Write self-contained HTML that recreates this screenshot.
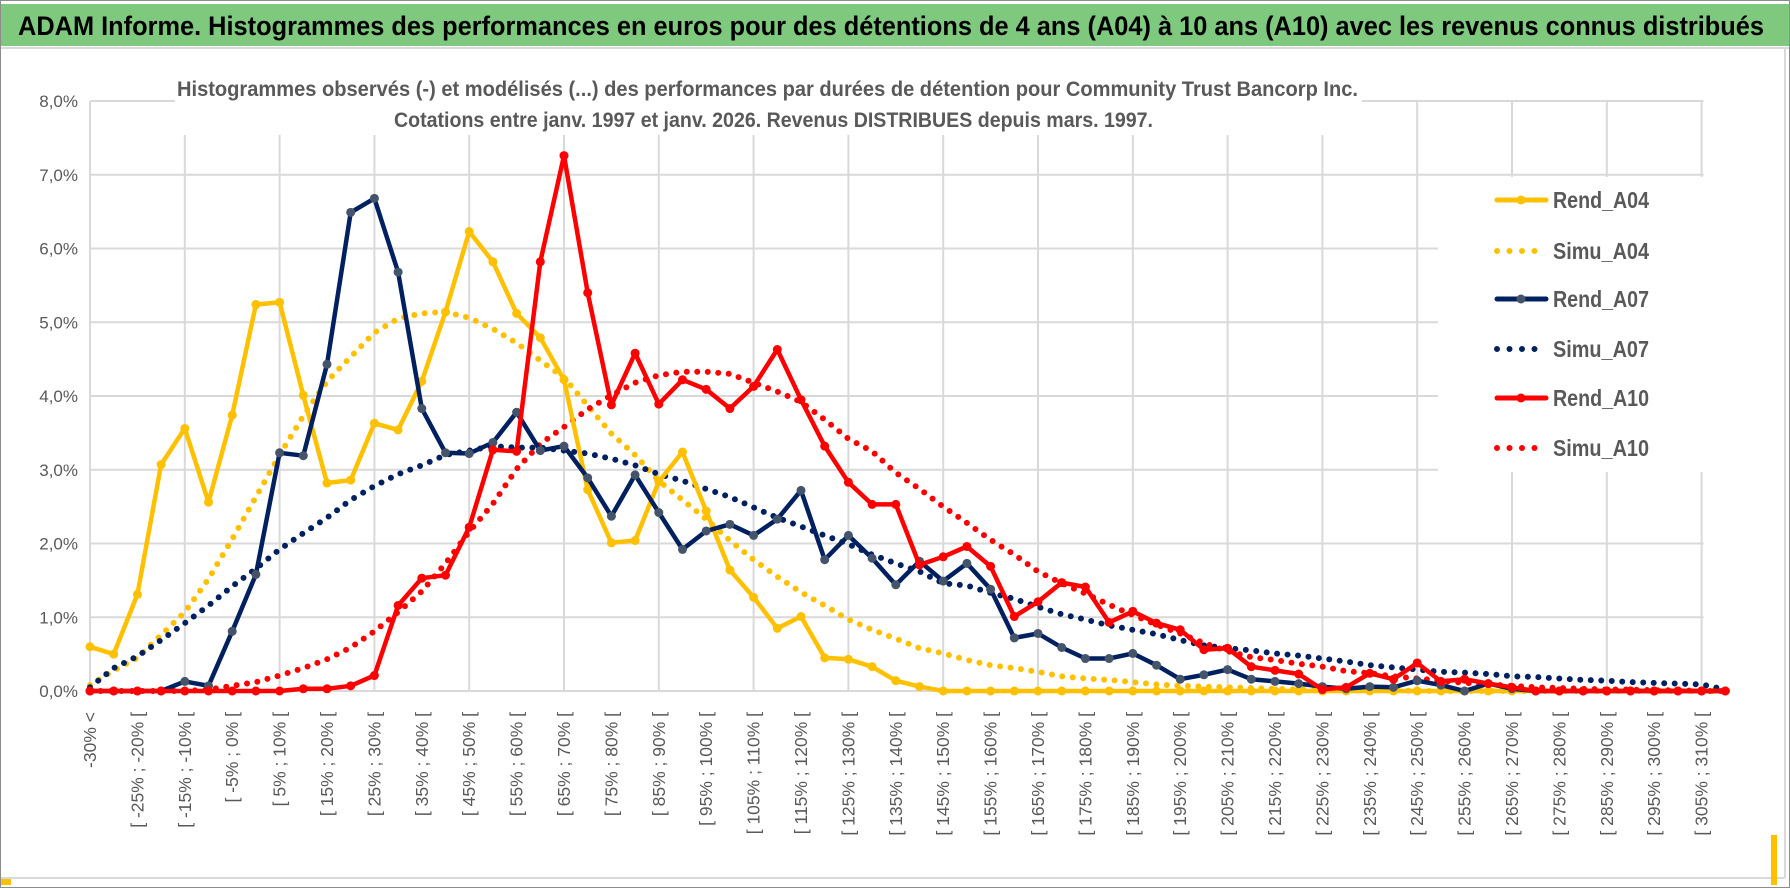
<!DOCTYPE html>
<html><head><meta charset="utf-8">
<style>
html,body{margin:0;padding:0;background:#fff;}
svg{display:block;}
text{font-family:"Liberation Sans Narrow","Liberation Sans",sans-serif;}
</style></head>
<body>
<svg id="chart" width="1790" height="888" viewBox="0 0 1790 888" xmlns="http://www.w3.org/2000/svg">
  <rect x="0" y="0" width="1790" height="888" fill="#fff"/>
  <rect x="0.5" y="0.5" width="1789" height="887" fill="none" stroke="#8c8c8c" stroke-width="1"/>
  <rect x="1" y="4" width="1788" height="42" fill="#7fc97f"/>
  <text x="18" y="35" font-size="27" font-weight="bold" fill="#000" textLength="1746" lengthAdjust="spacingAndGlyphs">ADAM Informe. Histogrammes des performances en euros pour des détentions de 4 ans (A04) à 10 ans (A10) avec les revenus connus distribués</text>
  <line x1="1" y1="48" x2="1789" y2="48" stroke="#d9d9d9" stroke-width="2"/>
  <line x1="1" y1="878" x2="1785" y2="878" stroke="#d9d9d9" stroke-width="2"/>
  <line x1="1785" y1="48" x2="1785" y2="878" stroke="#d9d9d9" stroke-width="2"/>
  <rect x="1" y="879" width="10" height="6" fill="#ffc000"/>
  <rect x="1771" y="835" width="6" height="50" fill="#ffc000"/>
  <g id="grid"></g>
  <rect x="175" y="58" width="1187" height="77" fill="#fff"/>
  <text x="177" y="96" font-size="21" font-weight="bold" fill="#595959" textLength="1181" lengthAdjust="spacingAndGlyphs">Histogrammes observés (-) et modélisés (...) des performances par durées de détention pour Community Trust Bancorp Inc.</text>
  <text x="394" y="127" font-size="21" font-weight="bold" fill="#595959" textLength="759" lengthAdjust="spacingAndGlyphs">Cotations entre janv. 1997 et janv. 2026. Revenus DISTRIBUES depuis mars. 1997.</text>
  <g id="yticks"></g>
  <g id="xticks"></g>
  <rect x="1438" y="177" width="267" height="295" fill="#fff"/>
  <g id="series"></g>
  <g id="legend"></g>
</svg>
<script>
const categories = ["-30% <"];
for (let a = -30; a < 310; a += 5) categories.push("[ " + a + "% ; " + (a + 5) + "% [");
const yTickValues = [0,1,2,3,4,5,6,7,8];
const yTickLabels = ["0,0%","1,0%","2,0%","3,0%","4,0%","5,0%","6,0%","7,0%","8,0%"];
const seriesNames = ["Rend_A04","Simu_A04","Rend_A07","Simu_A07","Rend_A10","Simu_A10"];
const rendA04 = [0.60,0.50,1.31,3.07,3.56,2.56,3.74,5.24,5.27,4.01,2.82,2.86,3.63,3.54,4.20,5.14,6.23,5.82,5.12,4.79,4.22,2.73,2.01,2.04,2.84,3.24,2.44,1.64,1.27,0.85,1.01,0.45,0.43,0.33,0.14,0.06,0,0,0,0,0,0,0,0,0,0,0,0,0,0,0,0,0,0,0,0,0,0,0,0,0,0,0,0,0,0,0,0,0,0];
const simuA04 = [0.08,0.28,0.45,0.76,1.07,1.52,2.06,2.63,3.20,3.73,4.20,4.53,4.86,5.05,5.12,5.14,5.06,4.91,4.72,4.48,4.25,3.87,3.49,3.20,2.85,2.59,2.33,2.04,1.78,1.55,1.34,1.16,0.97,0.83,0.71,0.58,0.51,0.42,0.35,0.31,0.26,0.20,0.17,0.15,0.12,0.09,0.07,0.06,0.05,0.04,0.03,0.02,0.01,0.01,0.01,0.01,0,0,0,0,0,0,0,0,0,0,0,0,0,0];
const rendA07 = [0,0,0,0,0.13,0.07,0.81,1.58,3.23,3.19,4.43,6.49,6.68,5.68,3.83,3.23,3.22,3.37,3.78,3.26,3.32,2.89,2.37,2.93,2.42,1.92,2.17,2.26,2.11,2.33,2.72,1.78,2.11,1.80,1.44,1.76,1.49,1.73,1.38,0.72,0.78,0.59,0.44,0.44,0.51,0.35,0.16,0.22,0.29,0.16,0.13,0.10,0.06,0.03,0.06,0.05,0.14,0.08,0.00,0.10,0.03,0,0,0,0,0,0,0,0,0];
const simuA07 = [0.05,0.31,0.47,0.69,0.92,1.16,1.42,1.66,1.92,2.14,2.35,2.59,2.78,2.94,3.06,3.20,3.26,3.32,3.30,3.30,3.26,3.22,3.15,3.06,2.94,2.85,2.74,2.63,2.49,2.35,2.23,2.11,1.99,1.85,1.73,1.62,1.46,1.43,1.33,1.25,1.14,1.04,0.97,0.89,0.83,0.77,0.69,0.62,0.58,0.55,0.51,0.48,0.44,0.40,0.35,0.32,0.29,0.26,0.25,0.23,0.20,0.19,0.17,0.15,0.14,0.12,0.11,0.10,0.09,0.02];
const rendA10 = [0,0,0,0,0,0,0,0,0,0.03,0.03,0.07,0.21,1.16,1.53,1.57,2.22,3.27,3.25,5.82,7.26,5.40,3.88,4.58,3.89,4.22,4.09,3.83,4.13,4.63,3.95,3.32,2.83,2.53,2.53,1.71,1.82,1.96,1.69,1.01,1.21,1.47,1.41,0.93,1.08,0.92,0.83,0.56,0.58,0.33,0.28,0.23,0.02,0.05,0.24,0.16,0.38,0.13,0.16,0.10,0.05,0,0,0,0,0,0,0,0,0];
const simuA10 = [0,0,0,0,0,0.02,0.07,0.12,0.21,0.31,0.43,0.59,0.81,1.07,1.35,1.73,2.16,2.54,3.01,3.35,3.58,3.82,4.01,4.18,4.28,4.33,4.33,4.30,4.18,4.06,3.92,3.68,3.42,3.25,2.96,2.74,2.50,2.28,2.05,1.85,1.62,1.46,1.32,1.17,1.03,0.90,0.78,0.65,0.54,0.46,0.42,0.37,0.33,0.27,0.24,0.20,0.17,0.14,0.11,0.09,0.07,0.05,0.04,0.03,0.02,0.02,0.01,0.01,0,0];

const NS = "http://www.w3.org/2000/svg";
const X0 = 90, XSTEP = 23.7, Y0 = 691, YPER = 73.75;
function xScale(i){ return X0 + i * XSTEP; }
function yScale(v){ return Y0 - v * YPER; }
function mk(tag, attrs, parent){
  const e = document.createElementNS(NS, tag);
  for (const k in attrs) e.setAttribute(k, attrs[k]);
  parent.appendChild(e); return e;
}
const grid = document.getElementById("grid");
const xLast = xScale(categories.length - 1);
yTickValues.forEach(function(v){
  const l = mk("line", {x1: X0, y1: yScale(v), x2: xLast + 2, y2: yScale(v), stroke: "#d9d9d9", "stroke-width": 2}, grid);
  
  
});
for (let i = 0; i < categories.length; i += 4) {
  const l = mk("line", {x1: xScale(i), y1: yScale(8), x2: xScale(i), y2: Y0, stroke: "#d9d9d9", "stroke-width": 2}, grid);
  
  
}
const yt = document.getElementById("yticks");
yTickValues.forEach(function(v, k){
  const t = mk("text", {x: 78, y: yScale(v) + 6, "text-anchor": "end", "font-size": 17, fill: "#595959"}, yt);
  t.textContent = yTickLabels[k];
  
  
});
const xt = document.getElementById("xticks");
for (let i = 0; i < categories.length; i += 2) {
  const x = xScale(i) + 6, y = 712;
  const t = mk("text", {x: x, y: y, "text-anchor": "end", "font-size": 17.5, fill: "#595959", transform: "rotate(-90 " + x + " " + y + ")", "font-family": "Liberation Sans, sans-serif"}, xt);
  t.textContent = categories[i];
  
  
}
const sg = document.getElementById("series");
function drawSeries(vals, color, dotted, markerFill, name){
  const pts = vals.map(function(v, i){ return xScale(i).toFixed(1) + "," + yScale(v).toFixed(1); }).join(" ");
  const attrs = dotted
    ? {points: pts, fill: "none", stroke: color, "stroke-width": 6, "stroke-dasharray": "0 10.5", "stroke-linecap": "round"}
    : {points: pts, fill: "none", stroke: color, "stroke-width": 4.5, "stroke-linejoin": "round"};
  const pl = mk("polyline", attrs, sg);
  
  
  if (!dotted) {
    vals.forEach(function(v, i){
      const c = mk("circle", {cx: xScale(i), cy: yScale(v), r: 4.5, fill: markerFill}, sg);
      
      
    });
  }
}
drawSeries(simuA04, "#ffc000", true, null, "simu-a04");
drawSeries(simuA07, "#002060", true, null, "simu-a07");
drawSeries(simuA10, "#ff0000", true, null, "simu-a10");
drawSeries(rendA04, "#ffc000", false, "#ffc000", "rend-a04");
drawSeries(rendA07, "#002060", false, "#44546a", "rend-a07");
drawSeries(rendA10, "#ff0000", false, "#ff0000", "rend-a10");

const lg = document.getElementById("legend");
const legendY = [200, 251, 299, 349, 398, 448];
const legendColors = ["#ffc000","#ffc000","#002060","#002060","#ff0000","#ff0000"];
const legendMarker = ["#ffc000",null,"#44546a",null,"#ff0000",null];
seriesNames.forEach(function(n, k){
  const y = legendY[k];
  const dotted = n.indexOf("Simu") === 0;
  const ln = mk("line", dotted
      ? {x1: 1497, y1: y, x2: 1545, y2: y, stroke: legendColors[k], "stroke-width": 6, "stroke-dasharray": "0 12.5", "stroke-linecap": "round"}
      : {x1: 1497, y1: y, x2: 1546, y2: y, stroke: legendColors[k], "stroke-width": 5, "stroke-linecap": "round"}, lg);
  
  
  if (!dotted) {
    const c = mk("circle", {cx: 1521, cy: y, r: 4.5, fill: legendMarker[k]}, lg);
    
    
  }
  const t = mk("text", {x: 1553, y: y + 8, "font-size": 23, "font-weight": "bold", fill: "#595959", textLength: 96, lengthAdjust: "spacingAndGlyphs"}, lg);
  t.textContent = n;
  
  
});
</script>
</body></html>
